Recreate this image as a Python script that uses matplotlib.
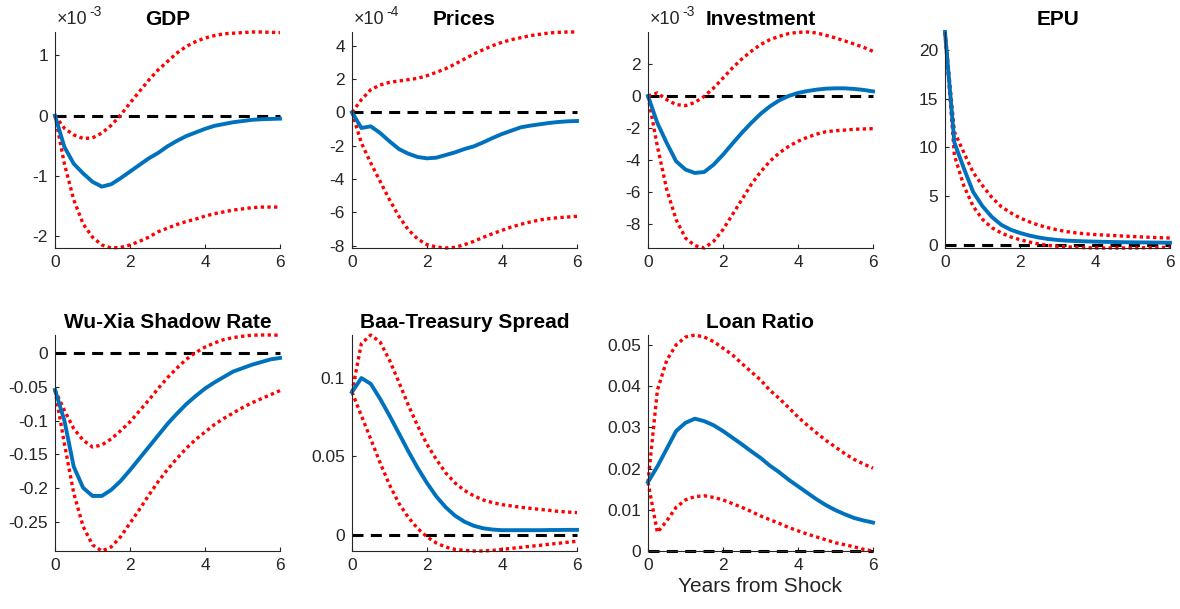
import numpy as np
import matplotlib.pyplot as plt
from matplotlib.ticker import FuncFormatter

plt.rcParams['font.family'] = ['Liberation Sans', 'DejaVu Sans']
plt.rcParams['axes.unicode_minus'] = False

# horizon in years (quarterly steps)
years = np.arange(25) / 4

# impulse responses and bands
gdp_irf = [0, -0.52, -0.80, -0.96, -1.10, -1.18, -1.14, -1.04, -0.93, -0.82, -0.71, -0.62, -0.51,
           -0.42, -0.34, -0.28, -0.22, -0.17, -0.14, -0.11, -0.09, -0.07, -0.06, -0.055, -0.05]
gdp_hi = [0, -0.21, -0.32, -0.38, -0.37, -0.29, -0.16, 0.01, 0.21, 0.40, 0.59, 0.76, 0.90,
          1.04, 1.15, 1.23, 1.29, 1.33, 1.36, 1.37, 1.38, 1.39, 1.39, 1.385, 1.38]
gdp_lo = [0, -0.80, -1.40, -1.80, -2.02, -2.15, -2.20, -2.19, -2.15, -2.09, -2.02, -1.93, -1.87,
          -1.81, -1.76, -1.72, -1.67, -1.63, -1.60, -1.57, -1.55, -1.53, -1.52, -1.52, -1.52]

prices_irf = [0, -0.94, -0.84, -1.24, -1.74, -2.20, -2.48, -2.68, -2.76, -2.72, -2.56, -2.40, -2.20,
              -2.04, -1.80, -1.54, -1.30, -1.10, -0.90, -0.80, -0.72, -0.64, -0.58, -0.54, -0.52]
prices_hi = [0, 0.76, 1.36, 1.64, 1.80, 1.88, 1.96, 2.04, 2.20, 2.40, 2.62, 2.90, 3.20,
             3.50, 3.76, 4.00, 4.20, 4.36, 4.48, 4.60, 4.68, 4.76, 4.80, 4.82, 4.82]
prices_lo = [0, -1.84, -3.04, -4.14, -5.24, -6.24, -7.04, -7.60, -7.94, -8.08, -8.14, -8.10, -7.94,
             -7.74, -7.50, -7.28, -7.08, -6.88, -6.72, -6.58, -6.46, -6.38, -6.32, -6.28, -6.24]

inv_irf = [0, -1.69, -2.94, -4.08, -4.60, -4.81, -4.75, -4.29, -3.67, -2.98, -2.31, -1.69, -1.12,
           -0.65, -0.27, 0.0, 0.19, 0.31, 0.40, 0.46, 0.48, 0.48, 0.44, 0.38, 0.29]
inv_hi = [0, 0.19, -0.23, -0.54, -0.60, -0.40, -0.02, 0.50, 1.12, 1.75, 2.31, 2.79, 3.21,
          3.52, 3.73, 3.90, 3.98, 4.00, 3.94, 3.79, 3.63, 3.44, 3.25, 3.04, 2.79]
inv_lo = [0, -3.15, -5.85, -7.73, -8.88, -9.35, -9.50, -9.08, -8.35, -7.42, -6.48, -5.54, -4.75,
          -4.08, -3.56, -3.15, -2.83, -2.58, -2.38, -2.23, -2.17, -2.13, -2.08, -2.06, -2.04]

epu_irf = [21.8, 10.5, 7.9, 5.46, 4.0, 2.9, 2.1, 1.6, 1.27, 1.0, 0.8, 0.65, 0.55,
           0.48, 0.44, 0.41, 0.38, 0.36, 0.34, 0.32, 0.31, 0.30, 0.29, 0.28, 0.27]
epu_hi = [21.8, 11.6, 9.5, 7.46, 6.1, 4.9, 3.95, 3.33, 2.8, 2.4, 2.06, 1.8, 1.58,
          1.4, 1.27, 1.18, 1.1, 1.05, 1.0, 0.95, 0.9, 0.86, 0.82, 0.78, 0.75]
epu_lo = [21.8, 9.2, 6.1, 4.0, 2.65, 1.8, 1.27, 0.86, 0.58, 0.34, 0.14, 0.0, -0.1,
          -0.15, -0.2, -0.24, -0.27, -0.27, -0.27, -0.27, -0.27, -0.25, -0.23, -0.21, -0.2]

wx_irf = [-0.055, -0.100, -0.168, -0.199, -0.211, -0.211, -0.202, -0.189, -0.173, -0.156, -0.139,
          -0.122, -0.105, -0.090, -0.076, -0.064, -0.053, -0.044, -0.036, -0.028, -0.023,
          -0.018, -0.014, -0.010, -0.008]
wx_hi = [-0.055, -0.085, -0.112, -0.129, -0.139, -0.136, -0.127, -0.115, -0.102, -0.086, -0.070,
         -0.053, -0.037, -0.023, -0.010, 0.0, 0.008, 0.014, 0.019, 0.022, 0.024, 0.0255,
         0.0258, 0.0258, 0.0255]
wx_lo = [-0.055, -0.134, -0.207, -0.256, -0.283, -0.292, -0.286, -0.271, -0.251, -0.231, -0.210,
         -0.190, -0.172, -0.156, -0.141, -0.128, -0.117, -0.106, -0.097, -0.089, -0.081,
         -0.074, -0.068, -0.062, -0.056]

baa_irf = [0.091, 0.100, 0.0963, 0.0867, 0.076, 0.0647, 0.0533, 0.0426, 0.0329, 0.0243, 0.0174,
           0.012, 0.0082, 0.0056, 0.004, 0.0032, 0.0028, 0.0028, 0.0028, 0.0028, 0.0028,
           0.0029, 0.0029, 0.003, 0.003]
baa_hi = [0.091, 0.122, 0.1275, 0.123, 0.1114, 0.0974, 0.0828, 0.0695, 0.0576, 0.048, 0.0394,
          0.0329, 0.0282, 0.0247, 0.0221, 0.0204, 0.0191, 0.0183, 0.0174, 0.0168, 0.0161,
          0.0155, 0.0148, 0.0144, 0.014]
baa_lo = [0.091, 0.076, 0.061, 0.0458, 0.0318, 0.020, 0.011, 0.0039, -0.0015, -0.0054, -0.008,
          -0.0095, -0.0101, -0.0105, -0.0105, -0.0101, -0.0095, -0.0088, -0.0082, -0.0075,
          -0.0069, -0.0062, -0.0056, -0.0049, -0.0043]

loan_irf = [0.0167, 0.0205, 0.0248, 0.0291, 0.0311, 0.0321, 0.0315, 0.0305, 0.0291, 0.0275,
            0.0259, 0.0242, 0.0226, 0.0207, 0.0191, 0.0173, 0.0157, 0.0141, 0.0125, 0.0111,
            0.0099, 0.0089, 0.0080, 0.0074, 0.0069]
loan_hi = [0.0167, 0.039, 0.0463, 0.050, 0.0519, 0.0524, 0.0519, 0.0508, 0.0492, 0.0476, 0.0455,
           0.0435, 0.0415, 0.039, 0.037, 0.0348, 0.0325, 0.0305, 0.0286, 0.0268, 0.0252,
           0.0236, 0.0222, 0.0211, 0.0201]
loan_lo = [0.0167, 0.0045, 0.0073, 0.0106, 0.0124, 0.0132, 0.0134, 0.013, 0.0124, 0.0115, 0.0106,
           0.0096, 0.0085, 0.0076, 0.0067, 0.0057, 0.0049, 0.0041, 0.0034, 0.0027, 0.002,
           0.0015, 0.001, 0.0004, 0.0]

titles = ['GDP', 'Prices', 'Investment', 'EPU',
          'Wu-Xia Shadow Rate', 'Baa-Treasury Spread', 'Loan Ratio']
scales = [1e-3, 1e-4, 1e-3, 1, 1, 1, 1]
exponents = ['-3', '-4', '-3', None, None, None, None]
yticks = [[-2, -1, 0, 1], [-8, -6, -4, -2, 0, 2, 4], [-8, -6, -4, -2, 0, 2],
          [0, 5, 10, 15, 20], [-0.25, -0.2, -0.15, -0.1, -0.05, 0],
          [0, 0.05, 0.1], [0, 0.01, 0.02, 0.03, 0.04, 0.05]]
panels = [(gdp_irf, gdp_hi, gdp_lo), (prices_irf, prices_hi, prices_lo),
          (inv_irf, inv_hi, inv_lo), (epu_irf, epu_hi, epu_lo),
          (wx_irf, wx_hi, wx_lo), (baa_irf, baa_hi, baa_lo),
          (loan_irf, loan_hi, loan_lo)]

fig = plt.figure(figsize=(11.8, 6.09), dpi=100)
grey = '#262626'
lefts = [55, 352, 648, 945]
tops = [32, 335]
W, H = 225, 216

for i, (irf, hi, lo) in enumerate(panels):
    r, c = divmod(i, 4)
    ax = fig.add_axes([lefts[c] / 1180, 1 - (tops[r] + H) / 609, W / 1180, H / 609])
    s = scales[i]
    irf = np.array(irf) * s
    hi = np.array(hi) * s
    lo = np.array(lo) * s
    ax.plot(years, np.zeros_like(years), 'k--', lw=2.2, dashes=(3.6, 2.4), clip_on=False)
    ax.plot(years, hi, color='red', lw=2.4, dashes=(1, 1), clip_on=False)
    ax.plot(years, lo, color='red', lw=2.4, dashes=(1, 1), clip_on=False)
    ax.plot(years, irf, '-', color='#0072BD', lw=2.8, clip_on=False)

    ax.set_xlim(0, 6)
    ax.set_ylim(min(lo.min(), irf.min(), 0), max(hi.max(), irf.max(), 0))
    ax.set_xticks([0, 2, 4, 6])
    ax.set_yticks(np.array(yticks[i]) * s)
    ax.yaxis.set_major_formatter(FuncFormatter(lambda v, p, s=s: '%g' % round(v / s, 6)))
    for side in ['top', 'right']:
        ax.spines[side].set_visible(False)
    for side in ['left', 'bottom']:
        ax.spines[side].set_color(grey)
        ax.spines[side].set_linewidth(0.8)
    ax.tick_params(direction='in', length=3, width=0.8, colors=grey, labelsize=12.5, pad=5)
    ax.set_title(titles[i], fontsize=15, fontweight='bold', pad=5)
    if exponents[i]:
        ax.annotate('\u00d710', xy=(0, 1), xycoords='axes fraction', xytext=(1, 3),
                    textcoords='offset points', ha='left', va='bottom',
                    fontsize=13, color=grey)
        ax.annotate(exponents[i], xy=(0, 1), xycoords='axes fraction', xytext=(24.5, 9),
                    textcoords='offset points', ha='left', va='bottom',
                    fontsize=10, color=grey)
    if i == 6:
        ax.set_xlabel('Years from Shock', fontsize=15, color=grey, labelpad=3)

fig.savefig('out.png', dpi=100)
